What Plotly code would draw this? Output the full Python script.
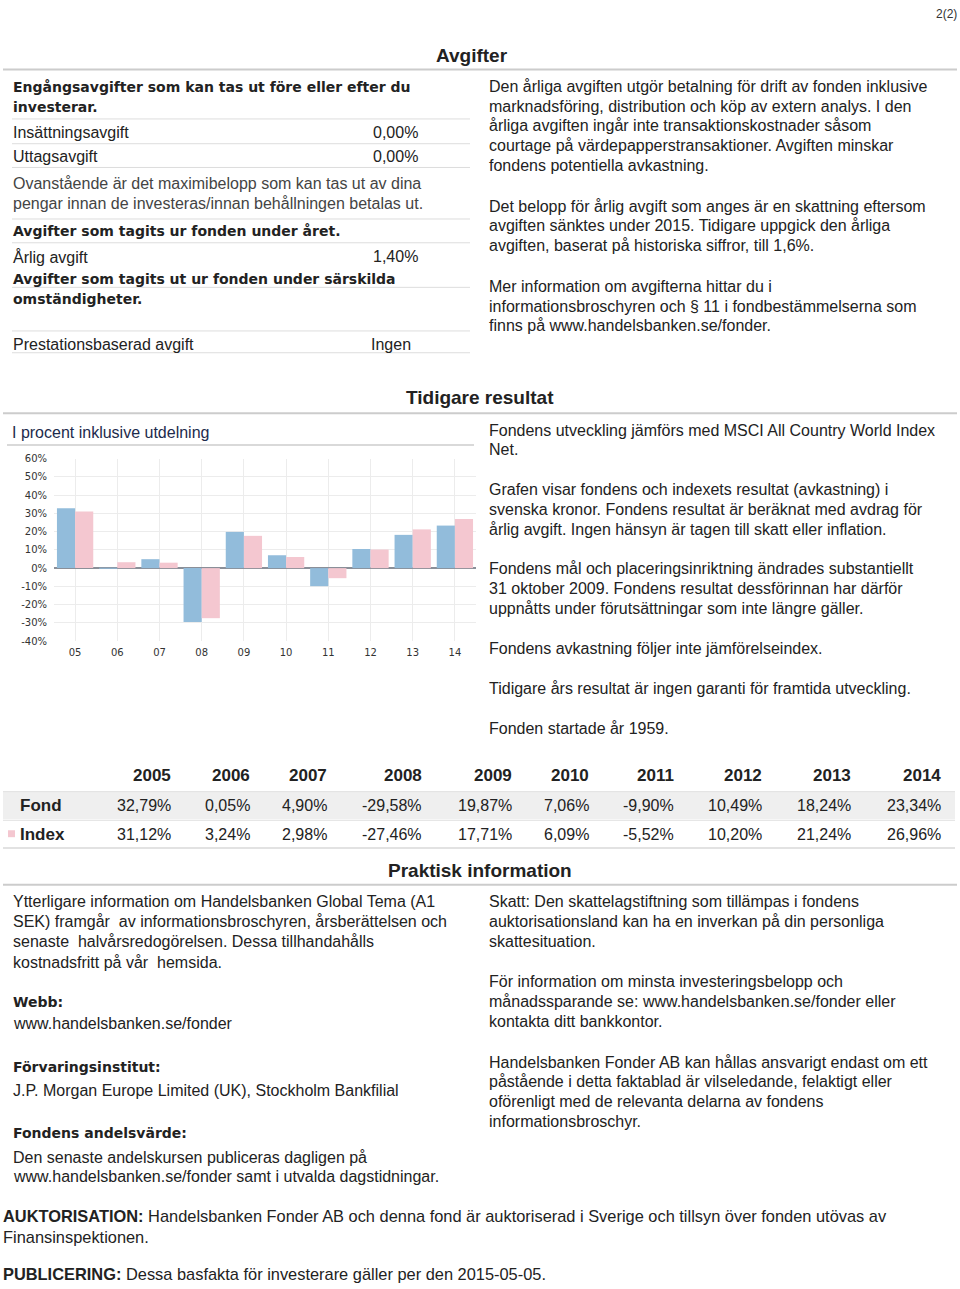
import plotly.graph_objects as go

W, H = 960, 1289

# ---------------- data ----------------
years_short = ["05", "06", "07", "08", "09", "10", "11", "12", "13", "14"]
years_full = ["2005", "2006", "2007", "2008", "2009", "2010", "2011", "2012", "2013", "2014"]
fond = [32.79, 0.05, 4.90, -29.58, 19.87, 7.06, -9.90, 10.49, 18.24, 23.34]
index = [31.12, 3.24, 2.98, -27.46, 17.71, 6.09, -5.52, 10.20, 21.24, 26.96]
ytick_vals = [60, 50, 40, 30, 20, 10, 0, -10, -20, -30, -40]
ytick_text = ["60%", "50%", "40%", "30%", "20%", "10%", "0%", "-10%", "-20%", "-30%", "-40%"]

FOND_COLOR = "#92bcdb"
INDEX_COLOR = "#f4c7d0"

def fmt(v):
    return ("%.2f%%" % v).replace(".", ",")

def px(x):
    return x / W

def py(y):
    return 1 - y / H

BODY = "Liberation Sans, Arial, sans-serif"
HEAD = "DejaVu Sans, Verdana, sans-serif"
TXT = "#222222"
PAD = 2  # annotation inner padding compensation

fig = go.Figure()
fig.add_trace(go.Bar(x=years_short, y=fond, name="Fond", marker=dict(color=FOND_COLOR, line=dict(width=0))))
fig.add_trace(go.Bar(x=years_short, y=index, name="Index", marker=dict(color=INDEX_COLOR, line=dict(width=0))))

annotations = []
shapes = []

def text(x, y, s, size=16, bold=False, color=TXT, anchor="left", family=BODY):
    if bold:
        s = "<b>" + s + "</b>"
    if anchor == "left":
        x = x - PAD
    elif anchor == "right":
        x = x + PAD
    annotations.append(dict(x=px(x), y=py(y), xref="paper", yref="paper", text=s,
                            showarrow=False, xanchor=anchor, yanchor="middle",
                            font=dict(size=size, color=color, family=family)))

def head(x, y, s):
    text(x, y, s, size=14, bold=True, family=HEAD)

def hline(y, x0, x1, color="#dddddd", width=1):
    shapes.append(dict(type="line", xref="paper", yref="paper", x0=px(x0), x1=px(x1),
                       y0=py(y), y1=py(y), line=dict(color=color, width=width), layer="below"))

# page number
text(957, 8, "2(2)", size=12, color="#333", anchor="right")

# ---------------- Avgifter ----------------
text(472, 50, "Avgifter", size=19, bold=True, color="#222", anchor="center")
hline(64, 3, 957, "#cccccc", 2)

head(13, 82, "Engångsavgifter som kan tas ut före eller efter du")
head(13, 102, "investerar.")
hline(114, 12, 470)
text(13, 128, "Insättningsavgift")
text(418, 128, "0,00%", anchor="right")
hline(139, 12, 470)
text(13, 152, "Uttagsavgift")
text(418, 152, "0,00%", anchor="right")
hline(163, 12, 470)
text(13, 179, "Ovanstående är det maximibelopp som kan tas ut av dina", color="#444")
text(13, 199, "pengar innan de investeras/innan behållningen betalas ut.", color="#444")
hline(215, 12, 470)
head(13, 227, "Avgifter som tagits ur fonden under året.")
hline(239, 12, 470)
text(13, 253, "Årlig avgift")
text(418, 253, "1,40%", anchor="right")
head(13, 276, "Avgifter som tagits ut ur fonden under särskilda")
hline(284, 12, 470)
head(13, 296, "omständigheter.")
hline(328, 12, 470)
text(13, 342, "Prestationsbaserad avgift")
text(371, 342, "Ingen")
hline(350, 12, 470)

avg_right = [
    (81, "Den årliga avgiften utgör betalning för drift av fonden inklusive"),
    (101, "marknadsföring, distribution och köp av extern analys. I den"),
    (121, "årliga avgiften ingår inte transaktionskostnader såsom"),
    (141, "courtage på värdepapperstransaktioner. Avgiften minskar"),
    (161, "fondens potentiella avkastning."),
    (202, "Det belopp för årlig avgift som anges är en skattning eftersom"),
    (222, "avgiften sänktes under 2015. Tidigare uppgick den årliga"),
    (242, "avgiften, baserat på historiska siffror, till 1,6%."),
    (283, "Mer information om avgifterna hittar du i"),
    (303, "informationsbroschyren och § 11 i fondbestämmelserna som"),
    (323, "finns på www.handelsbanken.se/fonder."),
]
for y, s in avg_right:
    text(489, y, s)

# ---------------- Tidigare resultat ----------------
text(480, 395, "Tidigare resultat", size=19, bold=True, anchor="center")
hline(411, 3, 957, "#cccccc", 2)
text(12, 431, "I procent inklusive utdelning", size=16, color="#1d2b4c")
hline(443, 7, 474, "#cccccc", 1.5)

tid_right = [
    (428, "Fondens utveckling jämförs med MSCI All Country World Index"),
    (448, "Net."),
    (488, "Grafen visar fondens och indexets resultat (avkastning) i"),
    (508, "svenska kronor. Fondens resultat är beräknat med avdrag för"),
    (528, "årlig avgift. Ingen hänsyn är tagen till skatt eller inflation."),
    (568, "Fondens mål och placeringsinriktning ändrades substantiellt"),
    (588, "31 oktober 2009. Fondens resultat dessförinnan har därför"),
    (608, "uppnåtts under förutsättningar som inte längre gäller."),
    (649, "Fondens avkastning följer inte jämförelseindex."),
    (689, "Tidigare års resultat är ingen garanti för framtida utveckling."),
    (729, "Fonden startade år 1959."),
]
for y, s in tid_right:
    text(489, y, s)

# ---------------- results table ----------------
col_right = [171, 250, 327, 422, 512, 589, 674, 762, 851, 941]
shapes.append(dict(type="rect", xref="paper", yref="paper", x0=px(3), x1=px(955),
                   y0=py(821), y1=py(793), fillcolor="#efefef", line=dict(width=0), layer="below"))
hline(793, 3, 955, "#e2e2e2", 1)
hline(822, 3, 955, "#e2e2e2", 1)
hline(850, 3, 955, "#e2e2e2", 2)
for i in range(len(years_full)):
    text(col_right[i], 777, years_full[i], size=17, bold=True, anchor="right")
    text(col_right[i], 807, fmt(fond[i]), size=16, anchor="right")
    text(col_right[i], 836, fmt(index[i]), size=16, anchor="right")
text(20, 807, "Fond", size=17, bold=True)
text(20, 836, "Index", size=17, bold=True)
shapes.append(dict(type="rect", xref="paper", yref="paper", x0=px(8), x1=px(15),
                   y0=py(839), y1=py(832), fillcolor=INDEX_COLOR, line=dict(width=0)))

# ---------------- Praktisk information ----------------
text(480, 873, "Praktisk information", size=19, bold=True, anchor="center")
hline(887, 3, 957, "#cccccc", 2)

prak_left = [
    (904, "Ytterligare information om Handelsbanken Global Tema (A1", False),
    (924, "SEK) framgår  av informationsbroschyren, årsberättelsen och", False),
    (944, "senaste  halvårsredogörelsen. Dessa tillhandahålls", False),
    (965, "kostnadsfritt på vår  hemsida.", False),
    (1005, "Webb:", True),
    (1027, "www.handelsbanken.se/fonder", False),
    (1071, "Förvaringsinstitut:", True),
    (1095, "J.P. Morgan Europe Limited (UK), Stockholm Bankfilial", False),
    (1138, "Fondens andelsvärde:", True),
    (1162, "Den senaste andelskursen publiceras dagligen på", False),
    (1182, "www.handelsbanken.se/fonder samt i utvalda dagstidningar.", False),
]
for y, s, b in prak_left:
    if b:
        head(13, y, s)
    else:
        text(13, y, s)

prak_right = [
    (904, "Skatt: Den skattelagstiftning som tillämpas i fondens"),
    (924, "auktorisationsland kan ha en inverkan på din personliga"),
    (944, "skattesituation."),
    (985, "För information om minsta investeringsbelopp och"),
    (1005, "månadssparande se: www.handelsbanken.se/fonder eller"),
    (1025, "kontakta ditt bankkontor."),
    (1066, "Handelsbanken Fonder AB kan hållas ansvarigt endast om ett"),
    (1086, "påstående i detta faktablad är vilseledande, felaktigt eller"),
    (1106, "oförenligt med de relevanta delarna av fondens"),
    (1126, "informationsbroschyr."),
]
for y, s in prak_right:
    text(489, y, s)

# ---------------- footer ----------------
text(3, 1221, "<b>AUKTORISATION:</b> Handelsbanken Fonder AB och denna fond är auktoriserad i Sverige och tillsyn över fonden utövas av",
     size=16.4)
text(3, 1243, "Finansinspektionen.", size=16.4)
text(3, 1280, "<b>PUBLICERING:</b> Dessa basfakta för investerare gäller per den 2015-05-05.", size=16.4)

# ---------------- layout ----------------
fig.update_layout(
    width=W, height=H, autosize=False,
    margin=dict(l=0, r=0, t=0, b=0),
    paper_bgcolor="white", plot_bgcolor="white",
    showlegend=False,
    barmode="group", bargap=0.14, bargroupgap=0,
    annotations=annotations, shapes=shapes,
    xaxis=dict(domain=[px(54), px(476)], type="category", range=[-0.5, 9.5],
               showgrid=True, gridcolor="#ececec", gridwidth=1,
               tickfont=dict(size=10, color="#333", family="DejaVu Sans, Verdana, sans-serif"),
               ticks="", showline=False, zeroline=False, ticklabelstandoff=4),
    yaxis=dict(domain=[py(641), py(457)], range=[-40, 60],
               tickvals=ytick_vals, ticktext=ytick_text,
               showgrid=True, gridcolor="#ececec", gridwidth=1,
               zeroline=True, zerolinecolor="#8a8f98", zerolinewidth=1.5,
               tickfont=dict(size=10, color="#333", family="DejaVu Sans, Verdana, sans-serif"),
               ticks="", showline=False, ticklabelstandoff=6),
)

post = (
    "document.body.style.margin='0';document.body.style.padding='0';"
    "document.documentElement.style.overflow='hidden';document.body.style.overflow='hidden';"
)
fig.write_html("out.html", config={"displayModeBar": False}, post_script=post)
